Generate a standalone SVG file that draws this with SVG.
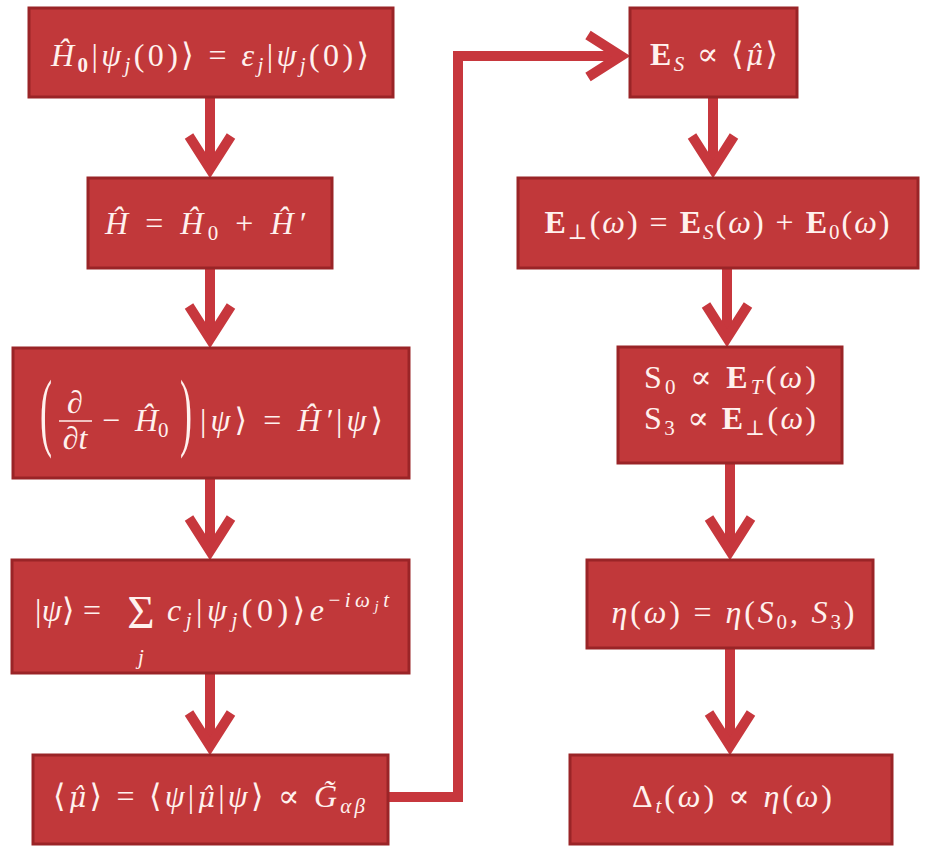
<svg xmlns="http://www.w3.org/2000/svg" width="929" height="846" viewBox="0 0 929 846">
<defs>
<style>
.box{fill:#c1383a;stroke:#9a2427;stroke-width:3}
.t{font-family:"Liberation Serif","DejaVu Serif",serif;font-size:32px;fill:#fff1ee}
.i{font-style:italic}
.b{font-weight:bold}
.s{font-size:21px}
.ss{font-size:15px}
.mu{font-family:"DejaVu Serif",serif;font-style:italic;font-size:27px}
.con{fill:none;stroke:#c7373d;stroke-width:10}
.fr{stroke:#fff1ee;stroke-width:1.6}
</style>
<marker id="chev" markerUnits="userSpaceOnUse" viewBox="-45 -30 60 60" markerWidth="60" markerHeight="60" refX="0" refY="0" orient="auto">
<path d="M-34,-21 L-1,0 L-34,21" fill="none" stroke="#c7373d" stroke-width="10" stroke-linejoin="miter"/>
</marker>
</defs>
<rect width="929" height="846" fill="#ffffff"/>
<g id="connectors">
<path class="con" d="M210,97 V170" marker-end="url(#chev)"/>
<path class="con" d="M210,268 V340" marker-end="url(#chev)"/>
<path class="con" d="M210,478 V552" marker-end="url(#chev)"/>
<path class="con" d="M210,673 V747" marker-end="url(#chev)"/>
<path class="con" d="M388,797 H458 V56 H622" marker-end="url(#chev)"/>
<path class="con" d="M713,97 V170" marker-end="url(#chev)"/>
<path class="con" d="M727,268 V339" marker-end="url(#chev)"/>
<path class="con" d="M730,463 V552" marker-end="url(#chev)"/>
<path class="con" d="M730,648 V747" marker-end="url(#chev)"/>
</g>
<g id="n1">
<rect class="box" x="29" y="8" width="364" height="89"/>
<text class="t" x="210" y="66" text-anchor="middle" textLength="318" lengthAdjust="spacing"><tspan class="i">Ĥ</tspan><tspan class="s b" dy="6">0</tspan><tspan dy="-6">|</tspan><tspan class="i">ψ</tspan><tspan class="s i" dy="6">j</tspan><tspan dy="-6">(0)⟩ = </tspan><tspan class="i">ε</tspan><tspan class="s i" dy="6">j</tspan><tspan dy="-6">|</tspan><tspan class="i">ψ</tspan><tspan class="s i" dy="6">j</tspan><tspan dy="-6">(0)⟩</tspan></text>
</g>
<g id="n2">
<rect class="box" x="88" y="178" width="244" height="90"/>
<text class="t" x="205" y="234" text-anchor="middle" textLength="200" lengthAdjust="spacing"><tspan class="i">Ĥ</tspan> = <tspan class="i">Ĥ</tspan><tspan class="s" dy="6">0</tspan><tspan dy="-6"> + </tspan><tspan class="i">Ĥ′</tspan></text>
</g>
<g id="n3">
<rect class="box" x="13" y="348" width="396" height="130"/>
<text class="t" transform="translate(40,440) scale(1,2.4)" style="font-size:36px">(</text>
<text class="t i" x="75" y="413" text-anchor="middle">∂</text>
<line class="fr" x1="59" y1="421" x2="92" y2="421"/>
<text class="t i" x="75" y="449" text-anchor="middle">∂t</text>
<text class="t" x="102" y="431">−</text>
<text class="t" x="135" y="431"><tspan class="i">Ĥ</tspan><tspan class="s" dy="6">0</tspan></text>
<text class="t" transform="translate(180,440) scale(1,2.4)" style="font-size:36px">)</text>
<text class="t" x="200" y="431" textLength="183" lengthAdjust="spacing">|<tspan class="i">ψ</tspan>⟩ = <tspan class="i">Ĥ′</tspan>|<tspan class="i">ψ</tspan>⟩</text>
</g>
<g id="n4">
<rect class="box" x="12" y="560" width="397" height="113"/>
<text class="t" x="35" y="621" textLength="66" lengthAdjust="spacing">|<tspan class="i">ψ</tspan>⟩ =</text>
<text class="t" x="141" y="628" text-anchor="middle" style="font-size:47px">Σ</text>
<text class="t i s" x="141" y="664" text-anchor="middle">j</text>
<text class="t" x="167" y="621" textLength="222" lengthAdjust="spacing"><tspan class="i">c</tspan><tspan class="s i" dy="6">j</tspan><tspan dy="-6">|</tspan><tspan class="i">ψ</tspan><tspan class="s i" dy="6">j</tspan><tspan dy="-6">(0)⟩</tspan><tspan class="i">e</tspan><tspan class="s" dy="-14">−</tspan><tspan class="s i">iω</tspan><tspan class="ss i" dy="4">j</tspan><tspan class="s i" dy="-4">t</tspan></text>
</g>
<g id="n5">
<rect class="box" x="33" y="755" width="355" height="89"/>
<text class="t" x="209" y="807" text-anchor="middle" textLength="312" lengthAdjust="spacing">⟨<tspan class="mu">μ̂</tspan>⟩ = ⟨<tspan class="i">ψ</tspan>|<tspan class="mu">μ̂</tspan>|<tspan class="i">ψ</tspan>⟩ ∝ <tspan class="i">G̃</tspan><tspan class="s i" dy="6">αβ</tspan></text>
</g>
<g id="n6">
<rect class="box" x="630" y="8" width="167" height="89"/>
<text class="t" x="714" y="65" text-anchor="middle" textLength="128" lengthAdjust="spacing"><tspan class="b">E</tspan><tspan class="s i" dy="6">S</tspan><tspan dy="-6"> ∝ ⟨</tspan><tspan class="mu">μ̂</tspan>⟩</text>
</g>
<g id="n7">
<rect class="box" x="518" y="178" width="400" height="90"/>
<text class="t" x="717" y="233" text-anchor="middle" textLength="345" lengthAdjust="spacing"><tspan class="b">E</tspan><tspan class="s" dy="6">⊥</tspan><tspan dy="-6">(</tspan><tspan class="i">ω</tspan>) = <tspan class="b">E</tspan><tspan class="s i" dy="6">S</tspan><tspan dy="-6">(</tspan><tspan class="i">ω</tspan>) + <tspan class="b">E</tspan><tspan class="s" dy="6">0</tspan><tspan dy="-6">(</tspan><tspan class="i">ω</tspan>)</text>
</g>
<g id="n8">
<rect class="box" x="618" y="347" width="224" height="116"/>
<text class="t" x="730" y="388" text-anchor="middle" textLength="172" lengthAdjust="spacing">S<tspan class="s" dy="6">0</tspan><tspan dy="-6"> ∝ </tspan><tspan class="b">E</tspan><tspan class="s i" dy="6">T</tspan><tspan dy="-6">(</tspan><tspan class="i">ω</tspan>)</text>
<text class="t" x="730" y="429" text-anchor="middle" textLength="172" lengthAdjust="spacing">S<tspan class="s" dy="6">3</tspan><tspan dy="-6"> ∝ </tspan><tspan class="b">E</tspan><tspan class="s" dy="6">⊥</tspan><tspan dy="-6">(</tspan><tspan class="i">ω</tspan>)</text>
</g>
<g id="n9">
<rect class="box" x="587" y="560" width="286" height="88"/>
<text class="t" x="733" y="623" text-anchor="middle" textLength="243" lengthAdjust="spacing"><tspan class="i">η</tspan>(<tspan class="i">ω</tspan>) = <tspan class="i">η</tspan>(<tspan class="i">S</tspan><tspan class="s" dy="6">0</tspan><tspan dy="-6">, </tspan><tspan class="i">S</tspan><tspan class="s" dy="6">3</tspan><tspan dy="-6">)</tspan></text>
</g>
<g id="n10">
<rect class="box" x="570" y="755" width="322" height="89"/>
<text class="t" x="732" y="807" text-anchor="middle" textLength="200" lengthAdjust="spacing">Δ<tspan class="s i" dy="6">t</tspan><tspan dy="-6">(</tspan><tspan class="i">ω</tspan>) ∝ <tspan class="i">η</tspan>(<tspan class="i">ω</tspan>)</text>
</g>
</svg>
